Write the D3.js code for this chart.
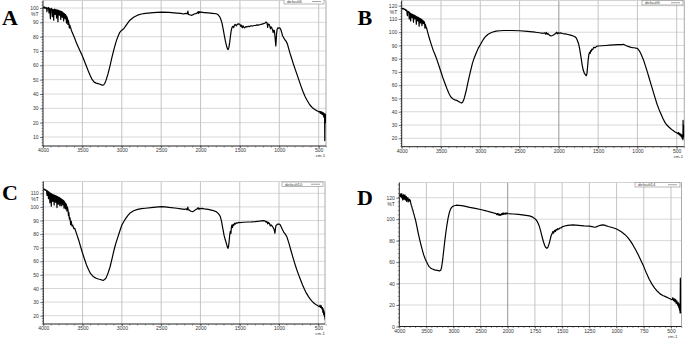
<!DOCTYPE html>
<html><head><meta charset="utf-8">
<script src="https://cdn.jsdelivr.net/npm/d3@7"></script>
<style>html,body{margin:0;padding:0;background:#fff;overflow:hidden}</style>
</head><body><svg id="c" width="685" height="338"></svg>
<script>
// ---------- data ----------
const panelLetters = ["A","B","C","D"];
const legendNames = ["default6","default5","default10","default14"];
const xTicksStd = [4000,3500,3000,2500,2000,1500,1000,500];
const xTicksD = [4000,3500,3000,2500,2000,1750,1500,1250,1000,750,500];
const yTicksA = [10,20,30,40,50,60,70,80,90,100];
const yTicksB = [20,30,40,50,60,70,80,90,100,110,120];
const yTicksC = [20,30,40,50,60,70,80,90,100,110];
const yTicksD = [0,20,40,60,80,100,120];
const yUnit = "%T";
const xUnit = "cm-1";

const specA = [[4000,100.6],[3992,100.1],[3985,100.8],[3978,99.9],[3970,100.4],[3962,99.6],[3955,100.2],[3950,97.5],[3946,100],[3938,99.5],[3930,100.3],[3924,96.5],[3920,99.7],[3912,99.2],[3906,92.5],[3902,99.3],[3895,99.8],[3888,98.9],[3882,94],[3878,99.1],[3870,98.7],[3864,91.5],[3860,98.8],[3852,99.2],[3846,95.5],[3842,98.6],[3834,98.9],[3828,93],[3824,98.3],[3816,98.6],[3810,90.5],[3806,98],[3798,98.4],[3792,95],[3788,97.7],[3780,97.9],[3774,92],[3770,97.4],[3762,97.6],[3756,93.5],[3752,97],[3744,96.6],[3738,91],[3734,96.2],[3726,95.8],[3720,92.5],[3716,95.4],[3708,94.8],[3702,89.5],[3698,94],[3690,92.8],[3684,88.5],[3680,91.5],[3672,89.6],[3666,86],[3660,88],[3650,86.5],[3640,84.5],[3630,83],[3620,81.8],[3610,80.5],[3600,79.2],[3575,75.5],[3550,72.5],[3525,69.5],[3500,66.5],[3475,63],[3450,59.5],[3425,56],[3400,52.8],[3375,50],[3350,48.3],[3325,47.6],[3300,47.2],[3275,46.8],[3250,46.2],[3230,46.3],[3215,47.5],[3200,49.5],[3175,54],[3150,59.5],[3125,65.5],[3100,71],[3075,76],[3050,80],[3025,83],[3000,84.5],[2975,85.5],[2950,87.5],[2925,89.5],[2900,91.3],[2850,93.5],[2800,95],[2750,95.8],[2700,96.3],[2600,96.8],[2500,97.1],[2400,96.9],[2300,96.4],[2250,96.2],[2220,95.8],[2190,96.3],[2170,96],[2160,97.8],[2155,95.5],[2140,95.3],[2120,94.9],[2100,95.2],[2080,95.8],[2060,96.1],[2040,96.6],[2030,97.5],[2025,96.2],[2015,97.4],[2005,96.8],[1995,97.3],[1980,96.9],[1950,96.8],[1900,96.6],[1850,96.3],[1800,96],[1780,95.4],[1760,94.2],[1745,92.5],[1730,90],[1715,86],[1700,81.5],[1685,77],[1670,73.5],[1660,71.8],[1650,71],[1640,72.5],[1630,76],[1620,80.5],[1610,84.5],[1600,86.5],[1590,87.2],[1580,86.4],[1570,88],[1560,88.5],[1545,87.6],[1530,88.8],[1515,88.9],[1500,88.6],[1490,87.2],[1480,88],[1470,86.2],[1460,87.5],[1450,86.6],[1440,86.1],[1425,87],[1410,86.8],[1395,87.3],[1380,87],[1360,87.6],[1340,87.4],[1320,87.8],[1300,87.9],[1280,88.2],[1260,88.1],[1240,88.5],[1220,88.8],[1200,89.1],[1180,89.5],[1165,90.2],[1155,89.4],[1148,86.5],[1142,88.8],[1130,88.6],[1120,87.2],[1112,85.5],[1105,86.8],[1095,86.1],[1085,84.5],[1078,82.8],[1070,84.6],[1062,84],[1055,80],[1050,77],[1045,73.5],[1040,77],[1035,82],[1028,85],[1020,86.1],[1010,86],[1000,86.2],[990,85.8],[980,84.8],[970,83],[960,80.8],[950,79.8],[940,78.8],[925,77.5],[910,76.5],[895,74.5],[880,71.5],[865,68.5],[850,66],[825,61.5],[800,57.5],[775,53.5],[750,49.5],[725,45.5],[700,41.8],[675,38.5],[650,35.8],[625,33.5],[600,31.6],[575,30.2],[550,29.2],[525,28.4],[510,28],[500,27.6],[490,27.8],[480,26.6],[475,27.8],[468,26.3],[462,27.5],[456,25.8],[450,27],[445,25.5],[440,26.8],[436,24],[432,26.5],[428,23.5],[425,26],[423,7.5],[421,22],[416,21],[412,26],[408,20],[404,23]];

const specB = [[4000,118.2],[3990,117.6],[3980,118],[3970,117.2],[3960,117.5],[3950,116.5],[3942,116.8],[3935,115.8],[3928,112.5],[3924,116],[3916,115.2],[3910,115.6],[3904,110],[3900,114.8],[3892,114.2],[3886,108.5],[3882,114],[3875,113.6],[3868,111],[3864,113.5],[3856,113.2],[3850,107.5],[3846,113],[3838,112.6],[3832,110],[3828,112.4],[3820,112],[3814,106],[3810,111.7],[3802,111.5],[3796,108.5],[3792,111.3],[3784,111],[3778,104.5],[3774,110.6],[3766,110.3],[3760,107],[3756,110],[3748,109.6],[3742,105],[3738,109.2],[3730,108.8],[3724,106.5],[3718,108.2],[3710,107.5],[3704,103],[3700,106],[3690,104],[3680,102.5],[3670,100],[3660,98],[3650,95.8],[3625,91],[3600,86.5],[3575,83],[3550,79],[3525,74.5],[3500,70],[3475,65.5],[3450,61.5],[3425,57.5],[3400,54],[3375,51.2],[3350,49.8],[3325,49],[3300,48.6],[3275,47.8],[3255,47],[3240,46.6],[3225,47.2],[3210,49],[3200,51],[3175,57],[3150,64],[3125,70.5],[3100,76.5],[3075,81],[3050,84.5],[3025,88],[3000,90.6],[2975,93.2],[2950,95.5],[2925,97.2],[2900,98.5],[2850,100],[2800,100.8],[2750,101.1],[2700,101.3],[2600,101.3],[2500,101.1],[2400,100.6],[2300,100],[2250,99.6],[2200,99.2],[2180,99.6],[2170,98.6],[2160,99.8],[2150,98.4],[2140,99.2],[2120,97.8],[2100,97.2],[2080,97.5],[2060,98.2],[2040,99],[2030,100],[2020,98.8],[2010,99.7],[2000,99.2],[1980,99.5],[1950,99],[1900,98.5],[1850,97.8],[1800,96.8],[1780,95.8],[1765,94],[1750,91.5],[1735,87.5],[1720,82],[1705,76],[1690,71.5],[1675,69],[1660,67.8],[1650,67.2],[1642,69],[1634,74],[1626,79.5],[1618,83],[1610,84.8],[1602,84],[1595,86.2],[1588,85.6],[1580,87.2],[1570,86.8],[1560,88.2],[1550,88.6],[1535,88.4],[1520,89.3],[1500,89.6],[1450,89.8],[1400,90],[1350,90.2],[1300,90.4],[1250,90.6],[1200,90.7],[1180,90.9],[1160,90.4],[1140,89.8],[1120,89.3],[1100,88.9],[1080,88.6],[1060,88.4],[1040,88.3],[1020,88],[1000,87.8],[975,86],[950,83],[925,79.5],[900,75],[875,70.3],[850,65.3],[825,60.3],[800,55.4],[775,50.5],[750,45.7],[725,41.8],[700,38.4],[675,35],[650,32],[625,30],[600,28.5],[575,27.2],[550,26],[525,25],[500,24.2],[485,23.5],[478,24.4],[470,22.8],[462,23.8],[455,21.8],[448,23.2],[440,21],[435,22.6],[430,20],[425,22],[421,19],[419,33.5],[417,20],[413,30],[410,21]];

const specC = [[4000,113.2],[3990,112.6],[3982,113],[3974,112.2],[3966,112.5],[3958,111.6],[3952,108.5],[3948,111.8],[3940,111.2],[3934,106],[3930,111],[3922,110.4],[3916,103],[3912,110.2],[3904,109.8],[3898,100.5],[3894,109.6],[3886,109.2],[3880,104],[3876,109],[3868,108.7],[3862,101.5],[3858,108.6],[3850,108.3],[3844,103.5],[3840,108.2],[3832,107.9],[3826,99.5],[3822,107.6],[3814,107.3],[3808,102],[3804,107],[3796,106.8],[3790,101],[3786,106.4],[3778,106],[3772,100.8],[3768,105.7],[3760,105.3],[3754,101.5],[3750,105],[3742,104.6],[3736,99],[3732,104],[3724,103.2],[3718,98.5],[3714,102.5],[3706,101.5],[3700,97],[3694,100],[3686,98],[3680,93.5],[3675,96],[3668,91],[3660,92],[3652,87],[3645,89.5],[3635,86],[3625,86.5],[3612,84],[3600,84.3],[3575,80],[3550,75.7],[3525,70.7],[3500,65.9],[3475,61.5],[3450,57.3],[3425,54],[3400,51.1],[3375,49.4],[3350,48.2],[3325,47.5],[3300,47],[3275,46.6],[3250,46.2],[3235,46],[3220,46.6],[3200,47.8],[3175,51.5],[3150,56],[3125,62],[3100,68.3],[3075,73.5],[3050,78],[3025,82.5],[3000,86.7],[2975,89.3],[2950,91.6],[2925,93.6],[2900,95.3],[2850,97.2],[2800,98.2],[2750,98.7],[2700,99],[2600,99.7],[2500,100.2],[2450,100],[2400,99.6],[2300,99],[2250,98.6],[2200,98.2],[2180,98.6],[2170,97.8],[2160,99.9],[2155,98],[2140,97.6],[2120,96.8],[2100,96.5],[2080,97.2],[2060,98],[2040,98.6],[2030,99.4],[2020,98.2],[2010,99],[2000,98.7],[1980,98.9],[1950,98.5],[1900,98.2],[1850,97.5],[1800,96.5],[1780,95.6],[1760,94.2],[1745,92.5],[1730,89],[1720,85.5],[1710,82.5],[1700,79.3],[1685,76],[1670,73.2],[1660,71],[1650,69.5],[1642,71],[1635,74.5],[1628,79],[1620,82],[1612,80.5],[1606,85],[1600,86.7],[1592,84.8],[1585,87.2],[1575,86.5],[1565,88],[1555,87.4],[1545,88.3],[1530,88.1],[1515,88.6],[1500,88.4],[1450,88.7],[1400,88.9],[1350,89],[1300,89.2],[1250,89.5],[1200,89.9],[1180,89.7],[1165,88.8],[1155,89.4],[1145,87.5],[1135,88.6],[1120,87.6],[1110,86],[1100,86.7],[1085,85.8],[1070,84.3],[1060,83],[1052,80.6],[1046,83.5],[1040,86],[1030,86.7],[1015,87.4],[1000,87.4],[985,86.8],[970,85],[955,83.2],[940,81.5],[920,80],[900,78],[875,73.5],[850,68.3],[825,63.3],[800,58.5],[775,54],[750,50],[725,46.2],[700,42.6],[675,39.3],[650,36.4],[625,34],[600,32],[575,30.4],[550,29],[525,28],[500,27.1],[485,26.6],[478,27.8],[470,26],[462,27.2],[455,25],[448,26],[442,22.5],[438,25],[432,21],[428,23.5],[422,19.5],[418,22],[414,17.5],[410,19]];

const specD = [[4000,122.5],[3990,121.8],[3982,123.5],[3975,121],[3968,122.8],[3960,120.5],[3954,123.8],[3948,119.5],[3942,122.5],[3936,118],[3930,121.6],[3924,119.8],[3918,123],[3912,118.5],[3906,121.5],[3900,120.2],[3894,122.4],[3888,117.8],[3882,120.8],[3876,119],[3870,121],[3864,116.5],[3858,119.8],[3850,118.5],[3842,120],[3836,116],[3830,118.8],[3822,117.5],[3814,118.6],[3806,116.5],[3800,117.8],[3790,115.5],[3780,113],[3770,112],[3760,109.5],[3750,108.5],[3740,106],[3730,104.8],[3720,102.5],[3710,101],[3700,99],[3675,93],[3650,86.8],[3625,81.2],[3600,76],[3575,71.2],[3550,66.7],[3525,63.3],[3500,60.5],[3475,58],[3450,55.8],[3425,54.6],[3400,53.8],[3350,52.8],[3300,52.3],[3260,51.8],[3235,52.5],[3220,55],[3200,62],[3180,71],[3160,80],[3140,88],[3120,95],[3100,101],[3075,106.5],[3050,109.8],[3025,111.5],[3000,112.3],[2950,113],[2900,112.9],[2850,112.6],[2800,112.2],[2700,111],[2600,110],[2500,109],[2400,107.8],[2300,106.4],[2250,105.6],[2220,105.4],[2200,104.3],[2190,105.2],[2180,104],[2170,105],[2160,103.8],[2150,104.6],[2140,103.5],[2130,104.4],[2120,104],[2110,105.2],[2100,104.2],[2090,105.6],[2080,104.5],[2070,105.8],[2060,104.8],[2050,105.5],[2040,104.6],[2030,105.8],[2020,105],[2010,105.6],[2000,105.2],[1950,104.8],[1900,104.4],[1850,103.8],[1800,103],[1775,102.2],[1760,101.2],[1750,100.5],[1740,99.5],[1730,98],[1720,96],[1710,93.5],[1700,90],[1690,86],[1680,82],[1670,78.5],[1660,75.5],[1650,73.5],[1640,72.8],[1630,74],[1620,77],[1610,81],[1600,85],[1592,86.5],[1585,88.5],[1578,87],[1570,89.6],[1562,88.5],[1555,90.5],[1548,89.8],[1540,91.2],[1530,90.6],[1520,92],[1510,91.8],[1500,92.8],[1475,93.6],[1450,94.2],[1425,94.5],[1400,94.6],[1375,94.5],[1350,94.3],[1300,93.8],[1250,93.5],[1225,93],[1200,92.5],[1185,92.8],[1170,93.6],[1150,94.2],[1130,94.6],[1110,94.4],[1100,94],[1075,93.2],[1050,92.5],[1025,91.8],[1000,90.8],[975,89.5],[950,87.8],[925,85.8],[900,83.3],[875,80],[850,76],[825,71.5],[800,66.7],[775,61.3],[750,55.8],[725,49.5],[700,44],[675,39.5],[650,35.8],[625,32.8],[600,30.4],[575,28.9],[550,27.8],[525,26.6],[500,25.4],[490,25],[483,26.8],[476,24],[470,25.8],[464,23],[458,25.2],[452,21.5],[446,24],[440,20],[435,22.5],[430,18],[426,21],[422,15.5],[419,18],[416,12.5],[414,45],[412,14],[409,12.5]];

// ---------- layout ----------
const W = 685, H = 338;
const svg = d3.select("#c");
svg.append("rect").attr("width", W).attr("height", H).attr("fill", "#fff");

const panels = [
  {spec: specA, letter: panelLetters[0], legend: legendNames[0], yTicks: yTicksA, xTicks: xTicksStd,
   frame: {l: 43, r: 326, t: 0.5, b: 146},
   x: d3.scaleLinear().domain([4000, 500]).range([43, 318.7]),
   y: d3.scaleLinear().domain([10, 100]).range([137, 8]),
   yMinorStep: 2, dark2000: false,
   letterPos: [2, 25], legendBox: [284, -1, 40, 5]},
  {spec: specB, letter: panelLetters[1], legend: legendNames[1], yTicks: yTicksB, xTicks: xTicksStd,
   frame: {l: 401.7, r: 684.3, t: 0.5, b: 146.7},
   x: d3.scaleLinear().domain([4000, 500]).range([401.7, 676.7]),
   y: d3.scaleLinear().domain([20, 120]).range([138.3, 5.7]),
   yMinorStep: 2, dark2000: true,
   letterPos: [357.5, 25], legendBox: [642, 0.5, 41, 4.5]},
  {spec: specC, letter: panelLetters[2], legend: legendNames[2], yTicks: yTicksC, xTicks: xTicksStd,
   frame: {l: 43.3, r: 325, t: 181.5, b: 324},
   x: d3.scaleLinear().domain([4000, 500]).range([43.3, 318.3]),
   y: d3.scaleLinear().domain([20, 110]).range([315.7, 193.3]),
   yMinorStep: 2, dark2000: false,
   letterPos: [2, 200], legendBox: [282, 182, 41, 4.5]},
  {spec: specD, letter: panelLetters[3], legend: legendNames[3], yTicks: yTicksD, xTicks: xTicksD,
   frame: {l: 399.3, r: 681.5, t: 182.5, b: 326.5},
   x: d3.scaleLinear().domain([4000, 2000, 500]).range([399.3, 507.7, 671]),
   y: d3.scaleLinear().domain([0, 120]).range([326.5, 197.7]),
   yMinorStep: 4, dark2000: true,
   letterPos: [357, 205], legendBox: [635, 182.5, 45, 4.5]}
];

const fontTick = "'Liberation Sans', Arial, sans-serif";

panels.forEach((p, i) => {
  const g = svg.append("g");
  const f = p.frame;
  const clipId = "clip" + i;
  svg.append("clipPath").attr("id", clipId).append("rect")
    .attr("x", f.l).attr("y", f.t).attr("width", f.r - f.l).attr("height", f.b - f.t);

  // horizontal grid
  g.append("g").selectAll("line").data(p.yTicks).join("line")
    .attr("x1", f.l).attr("x2", f.r)
    .attr("y1", d => p.y(d)).attr("y2", d => p.y(d))
    .attr("stroke", "#d4d4d4").attr("stroke-width", 0.9);
  // vertical grid
  g.append("g").selectAll("line").data(p.xTicks.filter(d => d !== 4000)).join("line")
    .attr("x1", d => p.x(d)).attr("x2", d => p.x(d))
    .attr("y1", f.t).attr("y2", f.b)
    .attr("stroke", d => (p.dark2000 && d === 2000) ? "#8a8a8a" : "#bdbdbd").attr("stroke-width", 0.9);
  // top/right border
  g.append("line").attr("x1", f.l).attr("x2", f.r).attr("y1", f.t).attr("y2", f.t)
    .attr("stroke", "#c8c8c8").attr("stroke-width", 0.8);
  g.append("line").attr("x1", f.r).attr("x2", f.r).attr("y1", f.t).attr("y2", f.b)
    .attr("stroke", "#a0a0a0").attr("stroke-width", 0.9);

  // minor y ticks
  const yMinVal = p.y.invert(f.b), yMaxVal = p.y.invert(f.t);
  const yMinor = d3.range(Math.ceil(yMinVal / p.yMinorStep) * p.yMinorStep, yMaxVal, p.yMinorStep);
  g.append("g").selectAll("line").data(yMinor).join("line")
    .attr("x1", f.l - 1.5).attr("x2", f.l)
    .attr("y1", d => p.y(d)).attr("y2", d => p.y(d))
    .attr("stroke", "#555").attr("stroke-width", 0.6);

  // minor x ticks
  let xMinor;
  if (p.xTicks === xTicksD) xMinor = d3.range(4000, 2000, -100).concat(d3.range(2000, 399, -50));
  else xMinor = d3.range(4000, 399, -100);
  g.append("g").selectAll("line").data(xMinor).join("line")
    .attr("x1", d => p.x(d)).attr("x2", d => p.x(d))
    .attr("y1", f.b).attr("y2", f.b + 1.5)
    .attr("stroke", "#555").attr("stroke-width", 0.6);

  // axes
  const yAxis = d3.axisLeft(p.y).tickValues(p.yTicks).tickSize(3).tickPadding(1.5).tickFormat(d3.format("d"));
  const ya = g.append("g").attr("transform", `translate(${f.l},0)`).call(yAxis);
  ya.select(".domain").remove();
  const xAxis = d3.axisBottom(p.x).tickValues(p.xTicks).tickSize(2).tickPadding(0.5).tickFormat(d3.format("d"));
  const xa = g.append("g").attr("transform", `translate(0,${f.b})`).call(xAxis);
  xa.select(".domain").remove();
  [ya, xa].forEach(a => {
    a.selectAll("line").attr("stroke", "#444").attr("stroke-width", 0.7);
    a.selectAll("text").attr("font-family", fontTick).attr("font-size", 5).attr("fill", "#333");
  });
  // axis lines
  g.append("line").attr("x1", f.l).attr("x2", f.l).attr("y1", f.t).attr("y2", f.b)
    .attr("stroke", "#222").attr("stroke-width", 1);
  g.append("line").attr("x1", f.l).attr("x2", f.r).attr("y1", f.b).attr("y2", f.b)
    .attr("stroke", "#222").attr("stroke-width", 1);

  // unit labels
  const topTick = p.yTicks[p.yTicks.length - 1];
  g.append("text").attr("x", f.l - 4.5).attr("y", p.y(topTick) + 8)
    .attr("text-anchor", "end").attr("font-family", fontTick).attr("font-size", 5).attr("fill", "#333")
    .text(yUnit);
  g.append("text").attr("x", p.x(500) + 6.5).attr("y", f.b + 11.2)
    .attr("text-anchor", "end").attr("font-family", fontTick).attr("font-size", 4.3).attr("fill", "#333")
    .text(xUnit);

  // legend box
  const lb = p.legendBox;
  g.append("rect").attr("x", lb[0]).attr("y", lb[1]).attr("width", lb[2]).attr("height", lb[3])
    .attr("fill", "#fff").attr("stroke", "#888").attr("stroke-width", 0.6);
  g.append("text").attr("x", lb[0] + 3).attr("y", lb[1] + lb[3] - 0.8)
    .attr("font-family", fontTick).attr("font-size", 4.2).attr("fill", "#444").text(p.legend);
  g.append("line").attr("x1", lb[0] + lb[2] - 12).attr("x2", lb[0] + lb[2] - 3)
    .attr("y1", lb[1] + lb[3] / 2).attr("y2", lb[1] + lb[3] / 2)
    .attr("stroke", "#666").attr("stroke-width", 0.6);

  // spectrum
  const line = d3.line().x(d => p.x(d[0])).y(d => p.y(d[1]));
  g.append("path").datum(p.spec).attr("d", line)
    .attr("clip-path", `url(#${clipId})`)
    .attr("fill", "none").attr("stroke", "#000").attr("stroke-width", 1.2)
    .attr("stroke-linejoin", "round");

  // panel letter
  svg.append("text").attr("x", p.letterPos[0]).attr("y", p.letterPos[1])
    .attr("font-family", "'Liberation Serif', 'Times New Roman', serif").attr("font-weight", "bold")
    .attr("font-size", 22).attr("fill", "#000").text(p.letter);
});
</script></body></html>
